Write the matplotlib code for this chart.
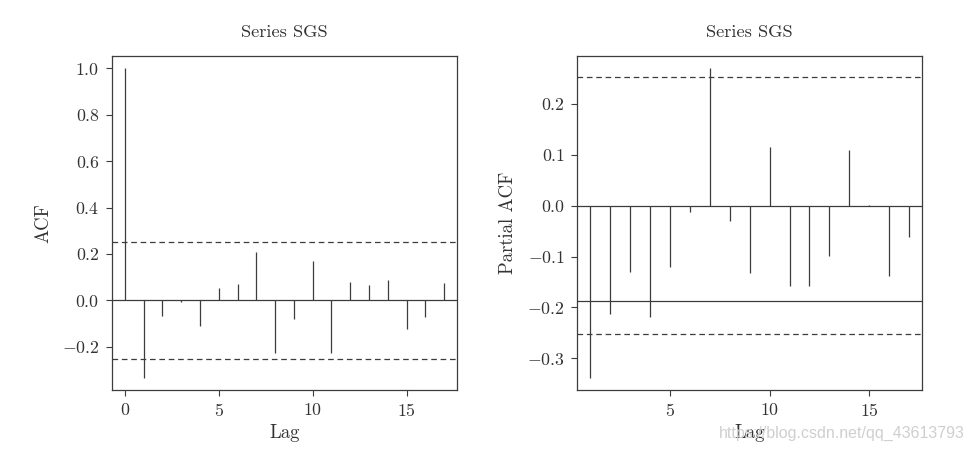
import matplotlib
matplotlib.use("Agg")
import matplotlib.pyplot as plt

# font giong LaTeX (Computer Modern) nhu ban scan
plt.rcParams['font.family'] = 'cmr10'
plt.rcParams['mathtext.fontset'] = 'cm'
plt.rcParams['axes.formatter.use_mathtext'] = True

# du lieu doc tu hinh
acf_lags = list(range(0, 18))
acf_vals = [1.0, -0.333, -0.069, -0.005, -0.112, 0.053, 0.071, 0.209, -0.225,
            -0.079, 0.171, -0.225, 0.079, 0.065, 0.089, -0.122, -0.073, 0.075]
acf_ci = 0.253

pacf_lags = list(range(1, 18))
pacf_vals = [-0.338, -0.213, -0.130, -0.219, -0.121, -0.013, 0.270, -0.030,
             -0.132, 0.115, -0.157, -0.157, -0.098, 0.110, 0.002, -0.139, -0.062]
pacf_ci = 0.253
pacf_extra_line = -0.187

title = "Series SGS"
line_color = '#3c3c3c'
text_color = '#333333'


def ve_do_thi(ax, lags, vals, ci, yticks, xticks, ylabel):
    ax.vlines(lags, 0, vals, color=line_color, lw=0.9)
    ax.axhline(0, color=line_color, lw=0.9)
    for c in (ci, -ci):
        ax.axhline(c, color=line_color, lw=0.9, dashes=(4.5, 3))
    # gioi han truc kieu R (mo rong 4%)
    lo = min(min(vals), -ci)
    hi = max(max(vals), ci)
    d = (hi - lo) * 0.04
    ax.set_ylim(lo - d, hi + d)
    xd = (max(lags) - min(lags)) * 0.04
    ax.set_xlim(min(lags) - xd, max(lags) + xd)
    ax.set_yticks(yticks)
    ax.set_xticks(xticks)
    ax.tick_params(direction='out', length=4, width=0.8, color=line_color,
                   labelsize=12.8, labelcolor=text_color, pad=5)
    for s in ax.spines.values():
        s.set_color(line_color)
        s.set_linewidth(0.9)
    ax.set_title(title, fontsize=13.3, color=text_color, pad=14)
    ax.set_xlabel("Lag", fontsize=13.5, color=text_color, labelpad=3)
    ax.set_ylabel(ylabel, fontsize=13.5, color=text_color, labelpad=7)


fig = plt.figure(figsize=(9.75, 4.51), dpi=100)
ax1 = fig.add_axes([0.1149, 0.1353, 0.3538, 0.7405])
ax2 = fig.add_axes([0.5921, 0.1353, 0.3535, 0.7405])

ve_do_thi(ax1, acf_lags, acf_vals, acf_ci,
          [-0.2, 0.0, 0.2, 0.4, 0.6, 0.8, 1.0], [0, 5, 10, 15], "ACF")
ve_do_thi(ax2, pacf_lags, pacf_vals, pacf_ci,
          [-0.3, -0.2, -0.1, 0.0, 0.1, 0.2], [5, 10, 15], "Partial ACF")
# duong ngang lien trong ban scan
ax2.axhline(pacf_extra_line, color=line_color, lw=0.9)

# watermark
fig.text(0.99, 0.04, "https://blog.csdn.net/qq_43613793", family='Liberation Sans',
         fontsize=11.5, color='#cfcfcf', va='center', ha='right')

fig.savefig("out.png", dpi=100, facecolor='white')
